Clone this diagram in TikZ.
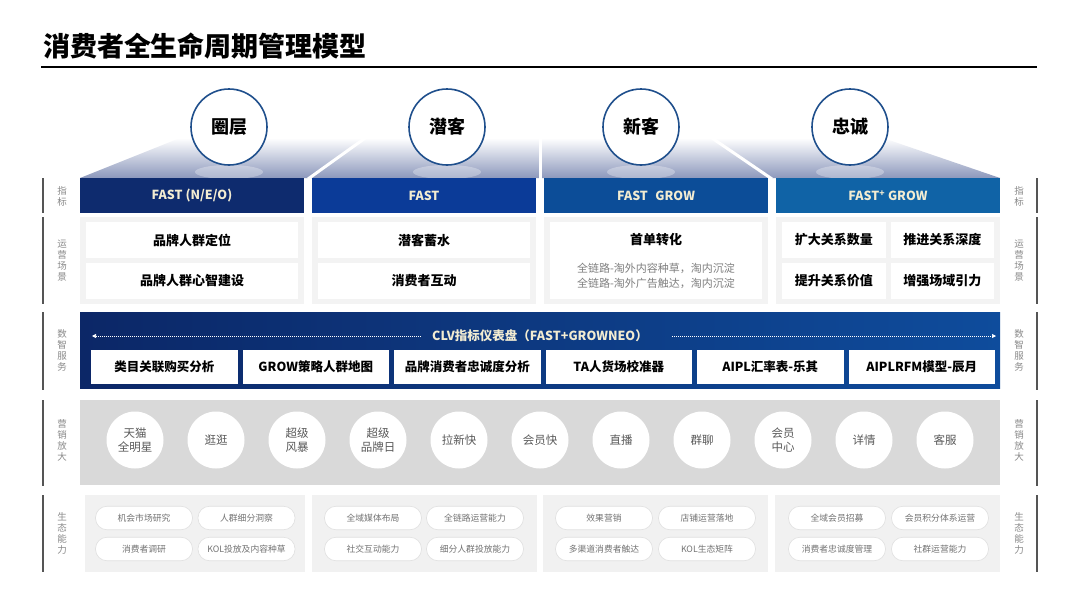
\documentclass[tikz,border=0pt]{standalone}
\usepackage{fontspec}
\setmainfont{Noto Sans CJK SC}
\usetikzlibrary{arrows.meta}
\definecolor{hA}{HTML}{0E2B6E}
\definecolor{hB}{HTML}{0B3B98}
\definecolor{hC}{HTML}{0C4D98}
\definecolor{hD}{HTML}{1063A6}
\definecolor{cream}{HTML}{F2ECD2}
\definecolor{circc}{HTML}{1F4F8C}
\definecolor{roofc}{HTML}{8C98BC}
\definecolor{dL}{HTML}{0C2767}
\definecolor{dR}{HTML}{0E4C9C}
\definecolor{mkg}{HTML}{D9D9D9}
\definecolor{panelg}{HTML}{F3F3F3}
\definecolor{ecog}{HTML}{F1F1F1}
\definecolor{pillb}{HTML}{E0E0E0}
\definecolor{sidet}{HTML}{8A8A8A}
\definecolor{sidel}{HTML}{555555}
\tikzset{
  every node/.style={inner sep=0pt, outer sep=0pt},
  stage/.style={circle, draw=circc, line width=1.6pt, fill=white, minimum size=76pt, font=\bfseries\fontsize{18}{18}\selectfont},
  hdr/.style={minimum width=224pt, minimum height=35pt, text=cream, font=\bfseries\fontsize{12.5}{12.5}\selectfont},
  panel/.style={fill=panelg, minimum width=224pt, minimum height=87pt},
  obox/.style={fill=white, minimum width=212pt, minimum height=36pt, font=\bfseries\fontsize{13}{13}\selectfont},
  sbox/.style={fill=white, minimum width=146.5pt, minimum height=34pt, font=\bfseries\fontsize{12.5}{12.5}\selectfont},
  mcirc/.style={circle, fill=white, minimum size=57pt, align=center, text=black!65, font=\fontsize{11.5}{13.5}\selectfont},
  ecopanel/.style={fill=ecog, minimum height=77pt},
  pill/.style={rounded corners=11.5pt, fill=white, draw=pillb, line width=0.6pt, minimum width=97pt, minimum height=23.5pt, text=black!55, font=\fontsize{8.8}{8.8}\selectfont},
  side/.style={align=center, text=sidet, font=\fontsize{9.5}{11}\selectfont},
  sidebar/.style={draw=sidel, line width=1.4pt},
  sep/.style={draw=white, line width=3pt},
  dots/.style={draw=white, line width=0.7pt, dash pattern=on 0.7pt off 1.3pt},
}
\begin{document}
\begin{tikzpicture}[x=1pt,y=-1pt]
\useasboundingbox (0,0) rectangle (1080,608);
\fill[white] (0,0) rectangle (1080,608);

% title
\node[anchor=west, font=\bfseries\fontsize{27}{27}\selectfont] (title) at (43,46) {消费者全生命周期管理模型};
\coordinate (tl) at (41,67);
\coordinate (tr) at (1037,67);
\draw[line width=1.8pt] (tl) -- (tr);

% roof
\shade[top color=white, bottom color=roofc] (80,178) -- (180,138) -- (883,138) -- (1000,178) -- cycle;
\foreach \cx in {229,447,641,850} {
  \fill[white, opacity=0.3] (\cx,172) ellipse (34pt and 7pt);
}
\coordinate (s1a) at (308,179); \coordinate (s1b) at (368,136);
\coordinate (s2a) at (540,179); \coordinate (s2b) at (540,136);
\coordinate (s3a) at (772,179); \coordinate (s3b) at (709,136);
\draw[sep] (s1a) -- (s1b);
\draw[sep] (s2a) -- (s2b);
\draw[sep] (s3a) -- (s3b);

% stage circles
\node[stage] (c1) at (229,127) {圈层};
\node[stage] (c2) at (447,127) {潜客};
\node[stage] (c3) at (641,127) {新客};
\node[stage] (c4) at (850,127) {忠诚};

% header bars
\node[hdr, fill=hA] (h1) at (192,195.5) {FAST (N/E/O)};
\node[hdr, fill=hB] (h2) at (424,195.5) {FAST};
\node[hdr, fill=hC] (h3) at (656,195.5) {FAST\hspace{0.6em}GROW};
\node[hdr, fill=hD] (h4) at (888,195.5) {FAST\textsuperscript{+} GROW};

% operations panels
\node[panel] (p1) at (192,260.5) {};
\node[panel] (p2) at (424,260.5) {};
\node[panel] (p3) at (656,260.5) {};
\node[panel] (p4) at (888,260.5) {};
\node[obox] (o11) at (192,240) {品牌人群定位};
\node[obox] (o12) at (192,281) {品牌人群心智建设};
\node[obox] (o21) at (424,240) {潜客蓄水};
\node[obox] (o22) at (424,281) {消费者互动};
\node[obox, minimum height=77pt] (o3) at (656,260.5) {};
\node[font=\bfseries\fontsize{13}{13}\selectfont] (o3t) at (656,240) {首单转化};
\node[align=center, text=black!50, font=\fontsize{11}{15}\selectfont] (o3s) at (656,275.5) {全链路-淘外内容种草，淘内沉淀\\全链路-淘外广告触达，淘内沉淀};
\node[obox, minimum width=103.5pt] (o41) at (833.75,240) {扩大关系数量};
\node[obox, minimum width=103.5pt] (o42) at (942.25,240) {推进关系深度};
\node[obox, minimum width=103.5pt] (o43) at (833.75,281) {提升关系价值};
\node[obox, minimum width=103.5pt] (o44) at (942.25,281) {增强场域引力};

% data service band
\node[minimum width=920pt, minimum height=76pt, left color=dL, right color=dR] (band) at (540,350) {};
\node[text=cream, font=\bfseries\fontsize{12.5}{12.5}\selectfont] (clv) at (540,336) {CLV指标仪表盘（FAST+GROWNEO）};
\coordinate (dl1) at (421,336); \coordinate (dl2) at (92,336);
\coordinate (dr1) at (672,336); \coordinate (dr2) at (996,336);
\draw[dots, -{Triangle[length=4pt,width=4pt]}] (dl1) -- (dl2);
\draw[dots, -{Triangle[length=4pt,width=4pt]}] (dr1) -- (dr2);
\node[sbox] (sv1) at (164.25,367) {类目关联购买分析};
\node[sbox] (sv2) at (315.75,367) {GROW策略人群地图};
\node[sbox] (sv3) at (467.25,367) {品牌消费者忠诚度分析};
\node[sbox] (sv4) at (618.75,367) {TA人货场校准器};
\node[sbox] (sv5) at (770.25,367) {AIPL汇率表-乐其};
\node[sbox] (sv6) at (921.75,367) {AIPLRFM模型-辰月};

% marketing band
\node[fill=mkg, minimum width=920pt, minimum height=85pt] (mband) at (540,442.5) {};
\node[mcirc] (m1) at (135,440) {天猫\\全明星};
\node[mcirc] (m2) at (216,440) {逛逛};
\node[mcirc] (m3) at (297,440) {超级\\风暴};
\node[mcirc] (m4) at (378,440) {超级\\品牌日};
\node[mcirc] (m5) at (459,440) {拉新快};
\node[mcirc] (m6) at (540,440) {会员快};
\node[mcirc] (m7) at (621,440) {直播};
\node[mcirc] (m8) at (702,440) {群聊};
\node[mcirc] (m9) at (783,440) {会员\\中心};
\node[mcirc] (m10) at (864,440) {详情};
\node[mcirc] (m11) at (945,440) {客服};

% ecosystem panels
\node[ecopanel, minimum width=220pt] (e1) at (195,533.5) {};
\node[ecopanel, minimum width=225pt] (e2) at (424.5,533.5) {};
\node[ecopanel, minimum width=225pt] (e3) at (655.5,533.5) {};
\node[ecopanel, minimum width=225pt] (e4) at (887.5,533.5) {};
\node[pill] (q11) at (144,518) {机会市场研究};
\node[pill] (q12) at (246.5,518) {人群细分洞察};
\node[pill] (q13) at (144,549) {消费者调研};
\node[pill] (q14) at (246.5,549) {KOL投放及内容种草};
\node[pill] (q21) at (373,518) {全域媒体布局};
\node[pill] (q22) at (475,518) {全链路运营能力};
\node[pill] (q23) at (373,549) {社交互动能力};
\node[pill] (q24) at (475,549) {细分人群投放能力};
\node[pill] (q31) at (604,518) {效果营销};
\node[pill] (q32) at (707,518) {店铺运营落地};
\node[pill] (q33) at (604,549) {多渠道消费者触达};
\node[pill] (q34) at (707,549) {KOL生态矩阵};
\node[pill] (q41) at (837,518) {全域会员招募};
\node[pill] (q42) at (940,518) {会员积分体系运营};
\node[pill] (q43) at (837,549) {消费者忠诚度管理};
\node[pill] (q44) at (940,549) {社群运营能力};

% side labels and bars
\foreach \xs/\xl/\s in {62/43/L,1019/1037/R} {
  \node[side] (\s1) at (\xs,196) {指\\标};
  \node[side] (\s2) at (\xs,261) {运\\营\\场\\景};
  \node[side] (\s3) at (\xs,350) {数\\智\\服\\务};
  \node[side] (\s4) at (\xs,440) {营\\销\\放\\大};
  \node[side] (\s5) at (\xs,533) {生\\态\\能\\力};
  \foreach \i/\a/\b in {1/178/213,2/217/304,3/312/390,4/400/486,5/495/572} {
    \coordinate (\s t\i) at (\xl,\a);
    \coordinate (\s b\i) at (\xl,\b);
    \draw[sidebar] (\s t\i) -- (\s b\i);
  }
}
\end{tikzpicture}
\end{document}
